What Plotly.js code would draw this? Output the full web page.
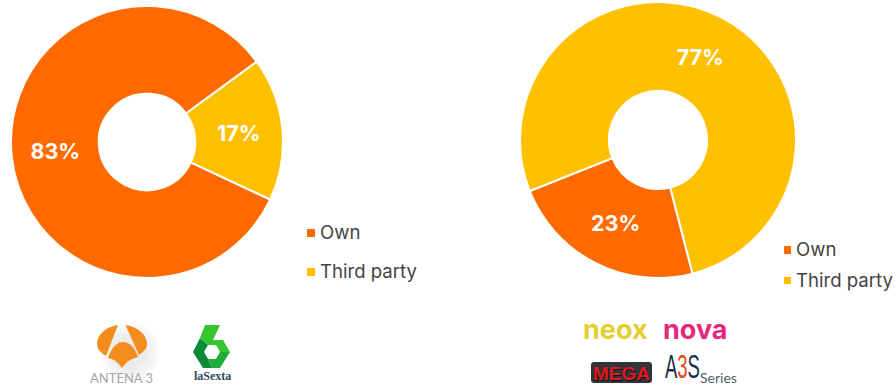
<!DOCTYPE html>
<html>
<head>
<meta charset="utf-8">
<script src="https://cdn.plot.ly/plotly-3.0.1.min.js"></script>
<style>html,body{margin:0;padding:0;background:#fff}#chart{width:896px;height:387px}</style>
</head>
<body>
<div id="chart"></div>
<script>
// Share of programming by origin for two groups of channels
const categories = ['Own', 'Third party'];
const mainChannels = [83, 17];
const otherChannels = [23, 77];
const sliceColors = ['#ff6a00', '#ffc000'];

const W = 896, H = 387;
const X = px => px / W;
const Y = px => 1 - px / H;
const legendFont = 'Inter, "Noto Sans", sans-serif';

// Converts a path written in page pixels into paper coordinates
function path(d) {
  return d.replace(/(-?[\d.]+),(-?[\d.]+)/g, (m, a, b) => X(+a).toFixed(5) + ',' + Y(+b).toFixed(5));
}
function fill(d, color) {
  return {type: 'path', xref: 'paper', yref: 'paper', path: path(d), fillcolor: color, line: {width: 0}, layer: 'above'};
}
function box(x0, y0, x1, y1, color) {
  return {type: 'rect', xref: 'paper', yref: 'paper', x0: X(x0), x1: X(x1), y0: Y(y0), y1: Y(y1), fillcolor: color, line: {width: 0}};
}
function glow(cx, cy, r) {
  return {type: 'circle', xref: 'paper', yref: 'paper', x0: X(cx - r), x1: X(cx + r), y0: Y(cy + r), y1: Y(cy - r),
    fillcolor: '#000000', opacity: 0.018, line: {width: 0}, layer: 'below'};
}
function label(x, y, text, size, color, family, anchor, shadow) {
  return {xref: 'paper', yref: 'paper', x: X(x), y: Y(y), text, showarrow: false, xanchor: anchor || 'left', yanchor: 'middle',
    font: {size, color, family, shadow: shadow || 'none'}, borderpad: 0, borderwidth: 0};
}

function donut(values, x0, x1, y0, y1, rotation) {
  return {
    type: 'pie', labels: categories, values, sort: false, direction: 'clockwise', rotation, hole: 0.355,
    domain: {x: [X(x0), X(x1)], y: [Y(y1), Y(y0)]},
    marker: {colors: sliceColors, line: {color: '#ffffff', width: 2}},
    textinfo: 'percent', textposition: 'inside', insidetextorientation: 'horizontal',
    texttemplate: '%{value}%',
    textfont: {family: 'Inter, "Noto Sans", sans-serif', size: 21.5, color: '#ffffff', weight: 700},
    showlegend: false, hoverinfo: 'label+percent'
  };
}

const data = [
  donut(mainChannels, 11, 283, 6, 278, 115),
  donut(otherChannels, 520, 796, 2, 278, 165.5)
];

const shapes = [
  // legend swatches
  box(307, 229, 315, 237, sliceColors[0]),
  box(307, 268, 315, 276, sliceColors[1]),
  box(784, 246, 791, 254, sliceColors[0]),
  box(784, 277, 791, 284, sliceColors[1]),
  // soft shadow behind the Antena 3 emblem
  glow(130, 352, 30), glow(130, 352, 26), glow(130, 352, 22), glow(130, 352, 18),
  // Antena 3 emblem
  fill('M118,325 C105,327 97,335 97,344 C97,349 101,353 106,356 Z', '#f28c1c'),
  fill('M125.5,325 C138,327 147,335 147,344 C147,349 143,352 139,355 Z', '#f28c1c'),
  fill('M108,358 C112,346 118,342 123,342 C129,342 135,347 138,357 Q128,359 122,368 Q116,359 108,358 Z', '#f28c1c'),
  // laSexta emblem
  fill('M193,352 L200,338 L208,345 L204,352 L208,359 L212,368 L203,368 Z', '#0a8a35'),
  fill('M205,325 L220,325 L213,340 L223,340 L230,352 L220,352 L216,345 L208,345 L200,338 Z', '#35c62f'),
  fill('M230,352 L220,368 L212,368 L208,359 L216,359 L220,352 Z', '#1fae33'),
  // MEGA badge
  fill('M594,362 L649,362 Q652,362 652,365 L652,380 Q652,383 649,383 L594,383 Q591,383 591,380 L591,365 Q591,362 594,362 Z', '#30353a')
];

const annotations = [
  label(320, 232, 'Own', 18.6, '#444444', legendFont),
  label(320, 271, 'Third party', 18.6, '#444444', legendFont),
  label(796, 249, 'Own', 18.6, '#444444', legendFont),
  label(796, 280, 'Third party', 18.6, '#444444', legendFont),
  label(122, 378, 'ANTENA 3', 13, '#a6a6a6', 'Lato, sans-serif', 'center'),
  label(212, 376, '<b>laSexta</b>', 12, '#2c4a5a', '"Liberation Serif", serif', 'center'),
  label(615, 329, '<b>neox</b>', 27, '#e4cf2f', 'Inter, sans-serif', 'center'),
  label(695, 329, '<b>nova</b>', 27, '#e6287f', 'Inter, sans-serif', 'center'),
  label(621.5, 373, '<b>MEGA</b>', 19, '#e01820', '"Liberation Sans", sans-serif', 'center', '1px 1px 0 #111111'),
  label(665, 366, '<span style="color:#17304f">A</span><span style="color:#e8481c">3</span><span style="color:#17304f">S</span>', 33, '#17304f', '"Liberation Sans", sans-serif'),
  label(700, 377, 'Series', 14, '#555f68', 'Lato, sans-serif')
];
const condensedIndex = 9; // the tall, narrow A3S wordmark
const condensedLeft = 665;

Plotly.newPlot('chart', data, {
  width: W, height: H, margin: {l: 0, r: 0, t: 0, b: 0},
  paper_bgcolor: '#ffffff', showlegend: false, shapes, annotations
}, {displayModeBar: false, staticPlot: true}).then(() => {
  const item = document.querySelectorAll('#chart .annotation')[condensedIndex];
  if (item) item.setAttribute('transform', `translate(${condensedLeft} 0) scale(0.56 1) translate(${-condensedLeft} 0)`);
});
</script>
</body>
</html>
